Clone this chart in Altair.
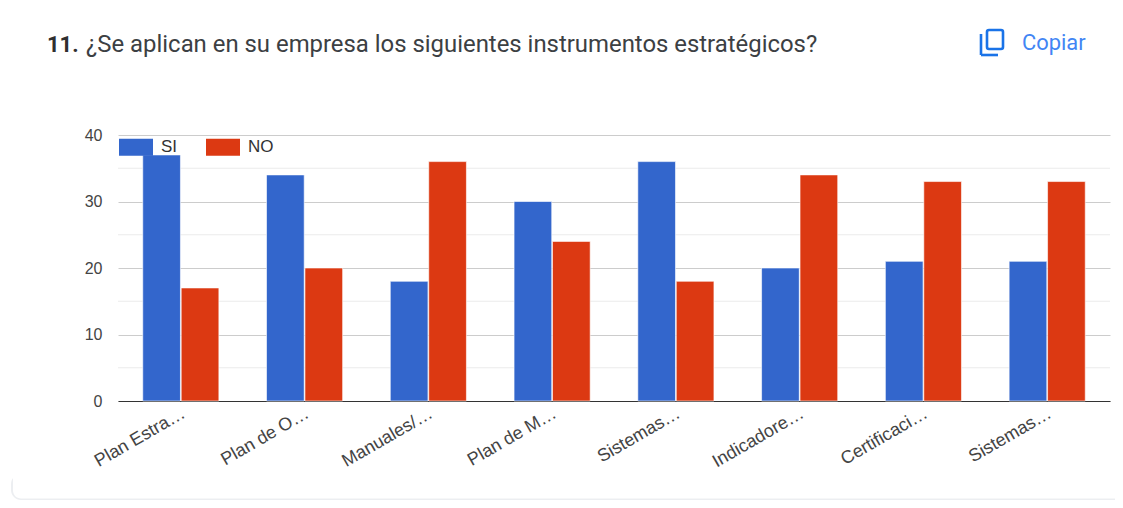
import altair as alt
import pandas as pd

categories = ["Plan Estra…", "Plan de O…", "Manuales/…", "Plan de M…", "Sistemas…", "Indicadore…", "Certificaci…", "Sistemas… "]
si_values = [37, 34, 18, 30, 36, 20, 21, 21]
no_values = [17, 20, 36, 24, 18, 34, 33, 33]
minor_ticks = [5, 15, 25, 35]
series = ["SI", "NO"]
colors = ["#3366cc", "#dc3912"]

rows = []
for c, s, n in zip(categories, si_values, no_values):
    rows.append({"cat": c, "serie": "SI", "val": s})
    rows.append({"cat": c, "serie": "NO", "val": n})
df = pd.DataFrame(rows)

W, H = 992, 266
yscale = alt.Scale(domain=[0, 40], nice=False)

minor = alt.Chart(pd.DataFrame({"v": minor_ticks})).mark_rule(color="#ebebeb", strokeWidth=1).encode(
    y=alt.Y("v:Q", scale=yscale, title=None)
)

bars = alt.Chart(df).mark_bar(stroke="#ffffff", strokeWidth=1, strokeOpacity=0.6).encode(
    x=alt.X("cat:N", sort=categories, title=None,
            scale=alt.Scale(paddingInner=0.385, paddingOuter=0.2),
            axis=alt.Axis(labelAngle=-30, labelAlign="right", labelBaseline="middle", labelFont="Liberation Sans",
                          labelFontSize=18, labelColor="#444444", ticks=False, domainColor="#333333",
                          domainWidth=1.2, labelPadding=11, labelOverlap=False, labelOffset=3, labelLimit=200)),
    xOffset=alt.XOffset("serie:N", sort=series, scale=alt.Scale(domain=series, paddingInner=0.02)),
    y=alt.Y("val:Q", scale=yscale, title=None,
            axis=alt.Axis(values=[0, 10, 20, 30, 40], gridColor="#cccccc", gridWidth=1, ticks=False, domain=False,
                          labelFont="Liberation Sans", labelFontSize=16, labelColor="#444444", labelPadding=16)),
    color=alt.Color("serie:N", sort=series, scale=alt.Scale(domain=series, range=colors),
                    legend=alt.Legend(orient="none", legendX=1, legendY=-5, direction="horizontal", title=None,
                                      symbolType="M-1,-0.5H1V0.5H-1Z", symbolSize=1156, symbolStrokeWidth=0,
                                      symbolOpacity=1, labelFont="Liberation Sans", labelFontSize=17,
                                      labelColor="#333333", labelOffset=8, columnPadding=28)),
)

def txt(text, x, y, **kw):
    return alt.Chart(pd.DataFrame({"t": [text]})).mark_text(align="left", baseline="middle", **kw).encode(
        text="t:N", x=alt.value(x), y=alt.value(y)
    )

OX, OY = 110, 127
title_num = txt("11.", 47 - 8 - OX, 45 - 8 - OY, font="Roboto", fontSize=22, fontWeight="bold", color="#2f2f2f")
title_rest = txt("¿Se aplican en su empresa los siguientes instrumentos estratégicos?", 86 - 8 - OX, 45 - 8 - OY,
                 font="Roboto", fontSize=23.9, color="#3c4043")
copiar = txt("Copiar", 1022 - 8 - OX, 43 - 8 - OY, font="Roboto", fontSize=21.9, color="#4285f4")

def ix(v):
    return alt.value(v - 8 - OX)
def iy(v):
    return alt.value(v - 8 - OY)

one = pd.DataFrame({"a": [0]})
icon_front = alt.Chart(one).mark_rect(fill="#ffffff", stroke="#1a73e8", strokeWidth=2.6, cornerRadius=2).encode(
    x=ix(987), x2=ix(1003), y=iy(30), y2=iy(49))
icon_v = alt.Chart(one).mark_rule(color="#1a73e8", strokeWidth=2.6).encode(
    x=ix(981), y=iy(34), y2=iy(55))
icon_h = alt.Chart(one).mark_rule(color="#1a73e8", strokeWidth=2.6).encode(
    x=ix(981), x2=ix(998), y=iy(55))

edge = alt.Chart(one).mark_rect(fill="#eceef1", cornerRadius=10).encode(
    x=ix(11), x2=ix(1140), y=iy(474), y2=iy(500))
edge_in = alt.Chart(one).mark_rect(fill="#ffffff", cornerRadius=8).encode(
    x=ix(13), x2=ix(1140), y=iy(470), y2=iy(498.5))

chart = alt.layer(edge, edge_in, minor, bars, title_num, title_rest, copiar, icon_front, icon_v, icon_h).properties(
    width=W, height=H,
    autosize=alt.AutoSizeParams(type="none"),
    padding={"left": OX, "top": OY, "right": 5, "bottom": 99},
).configure_view(stroke=None)

chart.save("out.html", embed_options={"renderer": "svg", "actions": False})
